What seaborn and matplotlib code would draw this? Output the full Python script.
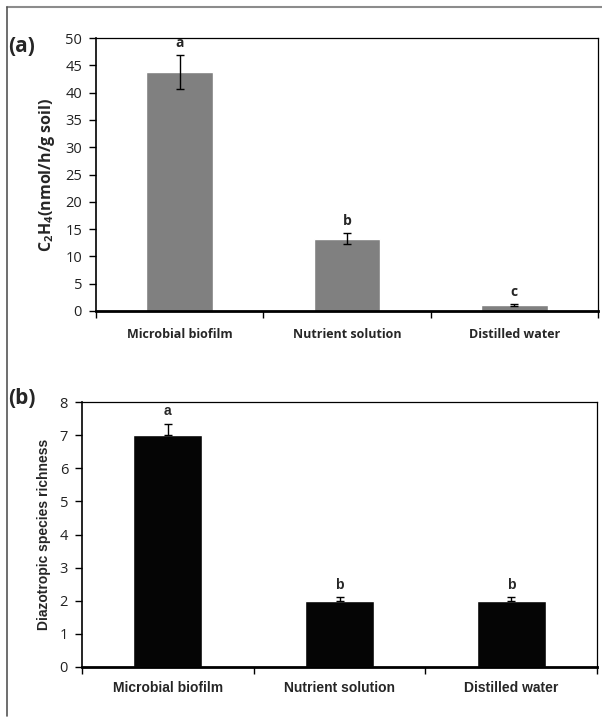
import matplotlib
matplotlib.use("Agg")
import matplotlib.pyplot as plt
from matplotlib.lines import Line2D
import pandas as pd
import seaborn as sns

# treatments and values
categories = ["Microbial biofilm", "Nutrient solution", "Distilled water"]
c2h4 = [43.7, 13.2, 1.1]
c2h4_err = [3.1, 1.0, 0.1]
c2h4_letters = ["a", "b", "c"]
richness = [7.0, 2.0, 2.0]
richness_err = [0.35, 0.1, 0.1]
richness_letters = ["a", "b", "b"]

sns.set_style("white")
plt.rcParams["mathtext.fontset"] = "custom"
plt.rcParams["mathtext.rm"] = "Open Sans"
plt.rcParams["mathtext.bf"] = "Open Sans:bold"

fig = plt.figure(figsize=(6.02, 7.21), dpi=100)

# outer frame (top and left grey lines)
fig.add_artist(Line2D([7 / 602, 1.0], [1 - 7 / 721] * 2, color="#8c8c8c", lw=1.5))
fig.add_artist(Line2D([7 / 602] * 2, [1 - 7 / 721, 1 - 716 / 721], color="#555555", lw=1.2))


def style_axes(ax, ymax, ystep, tick_font, xtick_font, xtick_size, xpad):
    ax.set_xlim(-0.5, 2.5)
    ax.set_ylim(0, ymax)
    ax.set_yticks(range(0, ymax + 1, ystep))
    ax.set_xticks([0, 1, 2])
    ax.set_xticks([-0.5, 0.5, 1.5, 2.5], minor=True)
    ax.tick_params(axis="x", which="major", bottom=True, length=0, pad=xpad)
    ax.tick_params(axis="x", which="minor", bottom=True, length=5, width=1,
                   direction="out", color="black")
    ax.tick_params(axis="y", left=True, length=5, width=1, direction="out",
                   color="black", pad=5)
    ax.set_xticklabels(categories, fontfamily=xtick_font, fontweight="bold", fontsize=xtick_size)
    for lab in ax.get_yticklabels():
        lab.set_fontfamily(tick_font)
        lab.set_fontsize(10.5)
        lab.set_color("#222222")
    ax.set_xlabel("")
    for s in ["top", "right"]:
        ax.spines[s].set_color("black")
        ax.spines[s].set_linewidth(0.9)
    ax.spines["left"].set_color("black")
    ax.spines["left"].set_linewidth(1.2)
    ax.spines["bottom"].set_color("black")
    ax.spines["bottom"].set_linewidth(2.0)


# panel (a): ethylene production
ax1 = fig.add_axes([96 / 602, 1 - 311 / 721, 502 / 602, 273 / 721])
df_a = pd.DataFrame({"treatment": categories, "value": c2h4})
sns.barplot(data=df_a, x="treatment", y="value", color="#808080", width=0.4,
            saturation=1, errorbar=None, ax=ax1)
ax1.errorbar(range(3), c2h4, yerr=c2h4_err, fmt="none", ecolor="black",
             elinewidth=1, capsize=3, capthick=1)
for i, (v, e, t) in enumerate(zip(c2h4, c2h4_err, c2h4_letters)):
    ax1.annotate(t, (i, v + e), xytext=(0, 4), textcoords="offset points",
                 ha="center", va="bottom", fontfamily="Open Sans",
                 fontweight="bold", fontsize=10)
style_axes(ax1, 50, 5, "Open Sans", "Open Sans", 9, 12)
ax1.set_ylabel(r"$\mathbf{C_2H_4}$(nmol/h/g soil)", fontfamily="Open Sans",
               fontweight="bold", fontsize=11.5, labelpad=6)

# panel (b): species richness
ax2 = fig.add_axes([82 / 602, 1 - 667 / 721, 515 / 602, 265 / 721])
df_b = pd.DataFrame({"treatment": categories, "value": richness})
sns.barplot(data=df_b, x="treatment", y="value", color="#050505", width=0.4,
            saturation=1, errorbar=None, ax=ax2)
ax2.errorbar(range(3), richness, yerr=[[0, 0, 0], richness_err], fmt="none",
             ecolor="black", elinewidth=1, capsize=3, capthick=1)
for i, (v, e, t) in enumerate(zip(richness, richness_err, richness_letters)):
    ax2.annotate(t, (i, v + e), xytext=(0, 4), textcoords="offset points",
                 ha="center", va="bottom", fontfamily="Liberation Sans",
                 fontweight="bold", fontsize=10)
style_axes(ax2, 8, 1, "Open Sans", "Liberation Sans", 10, 10)
ax2.set_ylabel("Diazotropic species richness", fontfamily="Liberation Sans",
               fontweight="bold", fontsize=10, labelpad=6)

fig.text(8 / 602, 1 - 46 / 721, "(a)", fontfamily="Open Sans", fontweight="bold",
         fontsize=15, va="center", ha="left")
fig.text(8 / 602, 1 - 398 / 721, "(b)", fontfamily="Open Sans", fontweight="bold",
         fontsize=15, va="center", ha="left")

fig.savefig("out.png", dpi=100)
